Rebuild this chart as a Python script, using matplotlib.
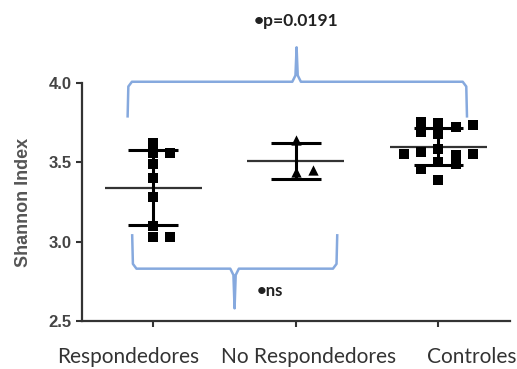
import numpy as np
import matplotlib
matplotlib.use("Agg")
import matplotlib.pyplot as plt

# === DATA ===
groups = ["Respondedores", "No Respondedores", "Controles"]
respondedores = [3.62, 3.56, 3.56, 3.49, 3.40, 3.28, 3.10, 3.03, 3.03]
no_respondedores = [3.64, 3.44, 3.45]
controles = [3.745, 3.724, 3.755, 3.734, 3.68, 3.69, 3.587, 3.544, 3.565,
             3.555, 3.555, 3.50, 3.49, 3.46, 3.386]
markers = ["s", "^", "s"]
p_text = "\u2022p=0.0191"
ns_text = "\u2022ns"

brace_col = "#86a9de"


def swarm(vals, dy=0.05, dx=0.12):
    # simple column scatter: put each point in the first free slot
    slots = [0, 1, -1, 2, -2, 3, -3]
    placed = []
    out = []
    for v in vals:
        for s in slots:
            if all(not (ps == s and abs(pv - v) < dy) for ps, pv in placed):
                placed.append((s, v))
                out.append(s * dx)
                break
    return np.array(out)


fig = plt.figure(figsize=(5.17, 3.69), dpi=100)
ax = fig.add_axes([0.1586, 0.130, 0.8274, 0.645])

for i, (vals, m) in enumerate(zip([respondedores, no_respondedores, controles], markers)):
    vals = np.array(vals)
    xs = i + swarm(vals)
    ax.scatter(xs, vals, marker=m, s=55, color="black", zorder=3, linewidths=0)
    mean, sd = vals.mean(), vals.std(ddof=1)
    ax.hlines(mean, i - 0.34, i + 0.34, color="#333333", lw=1.6, zorder=2)
    ax.vlines(i, mean - sd, mean + sd, color="black", lw=2.2, zorder=4)
    ax.hlines([mean - sd, mean + sd], i - 0.175, i + 0.175, color="black", lw=2.2, zorder=4)

ax.set_xlim(-0.5, 2.5)
ax.set_ylim(2.5, 4.0)
ax.set_yticks([2.5, 3.0, 3.5, 4.0])
ax.set_yticklabels(["2.5", "3.0", "3.5", "4.0"], fontfamily="Liberation Sans",
                   fontweight="bold", fontsize=12, color="#444444")
ax.set_xticks([0, 1, 2])
ax.set_xticklabels([])
ax.tick_params(axis="both", length=4, width=1.5, color="#333333")
for s in ["top", "right"]:
    ax.spines[s].set_visible(False)
for s in ["left", "bottom"]:
    ax.spines[s].set_linewidth(1.6)
    ax.spines[s].set_color("#333333")

# category labels, slightly shifted like the original
label_x = [-0.176, 1.09, 2.23]
for x, g in zip(label_x, groups):
    ax.text(x, -0.15, g, transform=ax.get_xaxis_transform(), ha="center", va="center",
            fontfamily="Lato", fontsize=15, color="#333333")

ax.set_ylabel("Shannon Index", fontfamily="Liberation Sans", fontweight="bold",
              fontsize=13, color="#555555", labelpad=12)


def brace(x0, x1, xm, y_end, y_bar, y_tip):
    r = 0.03
    sgn = np.sign(y_bar - y_end)
    xs = [x0, x0 + 0.005, x0 + 0.03, xm - 0.03, xm - 0.008, xm, xm + 0.008, xm + 0.03,
          x1 - 0.03, x1 - 0.005, x1]
    ys = [y_end, y_bar - sgn * r, y_bar, y_bar, y_bar + sgn * 0.04, y_tip, y_bar + sgn * 0.04,
          y_bar, y_bar, y_bar - sgn * r, y_end]
    ax.plot(xs, ys, color=brace_col, lw=1.8, clip_on=False, zorder=1, solid_joinstyle="round")


brace(-0.18, 2.2, 1.005, 3.79, 4.008, 4.225)
brace(-0.148, 1.29, 0.57, 3.04, 2.83, 2.58)

ax.text(1.0, 4.39, p_text, ha="center", va="center", fontfamily="Lato",
        fontweight="bold", fontsize=12.5, color="#222222", clip_on=False)
ax.text(0.82, 2.69, ns_text, ha="center", va="center", fontfamily="Lato",
        fontweight="bold", fontsize=12, color="#222222")

fig.savefig("out.png", dpi=100)
